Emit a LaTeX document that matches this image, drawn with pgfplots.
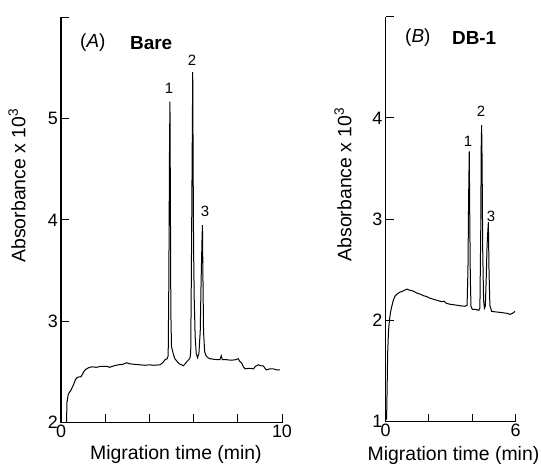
\documentclass[border=0pt]{standalone}
\usepackage{pgfplots}
\pgfplotsset{compat=1.18}
\usepackage{fontspec}
\setmainfont{Liberation Sans}

\begin{document}
\begin{tikzpicture}
\useasboundingbox (0bp,0bp) rectangle (541bp,464bp);
\pgfplotsset{
 myaxis/.style={
  scale only axis, height=405bp,
  axis x line*=bottom, axis y line*=left,
  tick align=inside, major tick length=8bp,
  axis line style={line width=1.1bp, black},
  tick style={line width=1bp, black},
  /pgf/number format/assume math mode=true,
  tick label style={font=\fontsize{18}{21}\selectfont},
  label style={font=\fontsize{19.5}{23}\selectfont},
  clip=false,
 },
 trace/.style={black, line width=1bp, no markers},
}
% ---------------- Panel A ----------------
\begin{axis}[myaxis, at={(61bp,41.5bp)}, anchor=south west, width=221bp,
  xmin=0, xmax=10, ymin=2, ymax=6,
  xtick={0,2,4,6,8,10}, xticklabels={0,,,,,10},
  ytick={2,3,4,5,6}, yticklabels={2,3,4,5,},
  xticklabel style={inner sep=2bp},
  yticklabel style={inner sep=3bp},
  xlabel={Migration time (min)},
  ylabel={Absorbance x 10\textsuperscript{3}},
  xlabel style={at={(axis description cs:0.52,-0.079)}, anchor=center},
  ylabel style={at={(axis description cs:-0.199,0.585)}, anchor=center},
]
\addplot[trace] coordinates {
(0.25,2.00) (0.27,2.20) (0.33,2.28) (0.45,2.32) (0.56,2.37) (0.65,2.42)
(0.71,2.44) (0.80,2.45) (0.90,2.45) (1.00,2.49) (1.09,2.52) (1.24,2.54)
(1.40,2.55) (1.60,2.545) (1.80,2.555) (2.07,2.555) (2.20,2.545) (2.40,2.56)
(2.60,2.57) (2.80,2.575) (2.97,2.59) (3.10,2.58) (3.30,2.575) (3.57,2.57)
(3.80,2.565) (4.00,2.57) (4.20,2.565) (4.48,2.57) (4.60,2.59) (4.71,2.62)
(4.80,2.63) (4.85,2.66) (4.88,3.40) (4.91,4.70) (4.93,5.17) (4.95,4.20)
(4.97,3.10) (5.00,2.75) (5.08,2.68) (5.15,2.63) (5.23,2.61) (5.35,2.58)
(5.46,2.57) (5.53,2.56) (5.62,2.58) (5.69,2.60) (5.78,2.62) (5.84,2.64)
(5.87,2.70) (5.90,3.50) (5.94,4.80) (5.96,5.46) (5.98,4.50) (6.00,3.70)
(6.03,3.20) (6.07,2.85) (6.12,2.68) (6.18,2.64) (6.24,2.68) (6.30,2.90)
(6.34,3.40) (6.38,3.80) (6.40,3.95) (6.42,3.50) (6.45,2.90) (6.50,2.70)
(6.56,2.66) (6.65,2.64) (6.74,2.63) (6.90,2.625) (7.05,2.62) (7.19,2.62)
(7.25,2.66) (7.30,2.62) (7.50,2.62) (7.70,2.615) (7.90,2.62) (8.02,2.63)
(8.10,2.60) (8.17,2.59) (8.25,2.55) (8.33,2.53) (8.50,2.535) (8.71,2.53)
(8.80,2.555) (8.93,2.57) (9.05,2.56) (9.15,2.56) (9.25,2.53) (9.30,2.52)
(9.45,2.53) (9.61,2.53) (9.75,2.52) (9.90,2.52)
};
\node[anchor=west, font=\fontsize{19}{22}\selectfont, inner sep=0pt] at (axis cs:0.86,5.75) {(\textit{A})};
\node[anchor=west, font=\fontsize{19}{22}\selectfont\bfseries, inner sep=0pt] at (axis cs:3.12,5.75) {Bare};
\node[font=\fontsize{15}{17}\selectfont, inner sep=0pt] at (axis cs:4.89,5.30) {1};
\node[font=\fontsize{15}{17}\selectfont, inner sep=0pt] at (axis cs:5.93,5.58) {2};
\node[font=\fontsize{15}{17}\selectfont, inner sep=0pt] at (axis cs:6.52,4.09) {3};
\end{axis}
% ---------------- Panel B ----------------
\begin{axis}[myaxis, at={(385.5bp,42.3bp)}, anchor=south west, width=130.2bp,
  xmin=0, xmax=6, ymin=1, ymax=5,
  xtick={0,2,4,6}, xticklabels={0,,,6},
  ytick={1,2,3,4,5}, yticklabels={1,2,3,4,},
  xticklabel style={inner sep=2bp},
  yticklabel style={inner sep=3bp},
  xlabel={Migration time (min)},
  ylabel={Absorbance x 10\textsuperscript{3}},
  xlabel style={at={(axis description cs:1.183,-0.084)}, anchor=east, inner xsep=0pt},
  ylabel style={at={(axis description cs:-0.326,0.586)}, anchor=center},
]
\addplot[trace] coordinates {
(0.05,1.02) (0.08,1.40) (0.10,1.68) (0.14,1.90) (0.18,2.00) (0.23,2.08)
(0.29,2.14) (0.36,2.20) (0.44,2.24) (0.55,2.265) (0.67,2.28) (0.80,2.29)
(0.98,2.31) (1.10,2.30) (1.28,2.29) (1.45,2.27) (1.60,2.26) (1.75,2.245)
(1.90,2.235) (2.05,2.22) (2.20,2.21) (2.35,2.20) (2.51,2.19) (2.60,2.185)
(2.70,2.19) (2.80,2.17) (2.97,2.16) (3.15,2.155) (3.30,2.15) (3.45,2.145)
(3.66,2.14) (3.76,2.15) (3.80,2.50) (3.83,3.20) (3.86,3.67) (3.88,3.10)
(3.91,2.40) (3.94,2.14) (4.00,2.11) (4.15,2.11) (4.30,2.10) (4.35,2.12)
(4.39,2.90) (4.41,3.70) (4.43,3.93) (4.45,3.60) (4.48,2.70) (4.52,2.20)
(4.56,2.12) (4.60,2.14) (4.64,2.40) (4.68,2.74) (4.72,2.90) (4.74,2.97)
(4.77,2.50) (4.81,2.15) (4.89,2.09) (5.05,2.085) (5.27,2.08) (5.45,2.075)
(5.60,2.07) (5.74,2.06) (5.85,2.07) (5.97,2.09)
};
\node[anchor=west, font=\fontsize{19}{22}\selectfont, inner sep=0pt] at (axis cs:0.90,4.79) {(\textit{B})};
\node[anchor=west, font=\fontsize{19}{22}\selectfont\bfseries, inner sep=0pt] at (axis cs:3.06,4.79) {DB-1};
\node[font=\fontsize{15}{17}\selectfont, inner sep=0pt] at (axis cs:3.80,3.77) {1};
\node[font=\fontsize{15}{17}\selectfont, inner sep=0pt] at (axis cs:4.40,4.07) {2};
\node[font=\fontsize{15}{17}\selectfont, inner sep=0pt] at (axis cs:4.86,3.03) {3};
\end{axis}
\end{tikzpicture}
\end{document}
